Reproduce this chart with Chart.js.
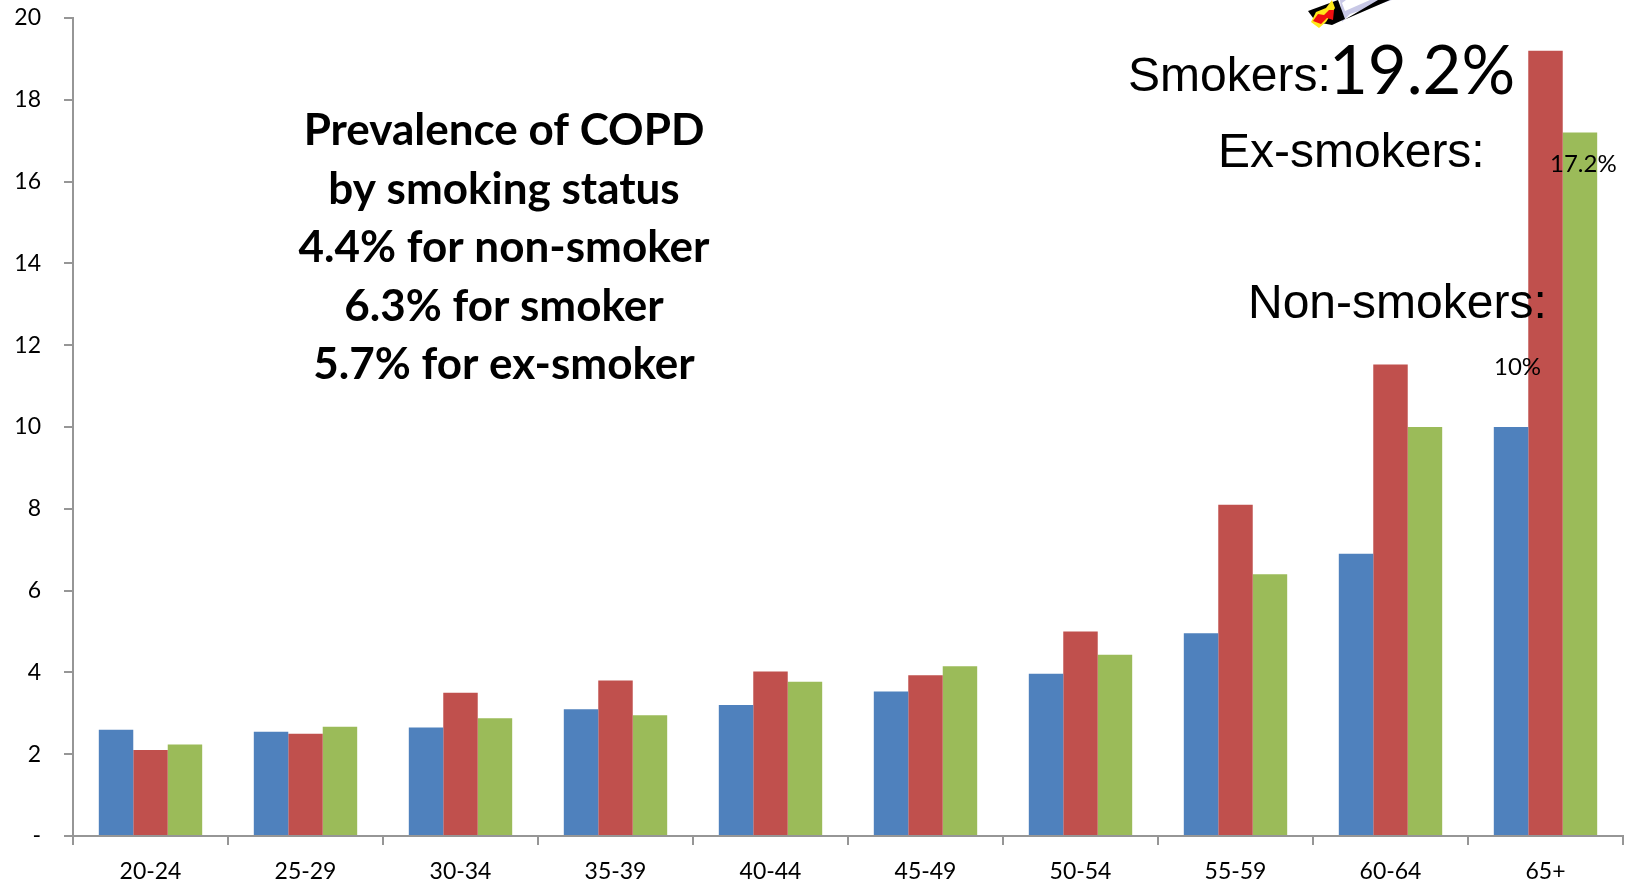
<!DOCTYPE html>
<html>
<head>
<meta charset="utf-8">
<title>Prevalence of COPD by smoking status</title>
<script src="https://cdn.jsdelivr.net/npm/chart.js@4/dist/chart.umd.min.js"></script>
<style>
  html, body { margin: 0; padding: 0; background: #fff; overflow: hidden; }
  #wrap { width: 1630px; height: 882px; }
</style>
</head>
<body>
<div id="wrap"><canvas id="copdChart" width="1630" height="882"></canvas></div>
<script>
const ageGroups = ['20-24', '25-29', '30-34', '35-39', '40-44', '45-49', '50-54', '55-59', '60-64', '65+'];
// 65+ non-smokers follows its 10% label
const nonSmokers = [2.6, 2.55, 2.65, 3.1, 3.2, 3.53, 3.97, 4.96, 6.9, 10];
const smokers = [2.1, 2.5, 3.5, 3.8, 4.02, 3.93, 5, 8.1, 11.53, 19.2];
const exSmokers = [2.24, 2.67, 2.88, 2.95, 3.77, 4.15, 4.43, 6.4, 10, 17.2];
const yTicks = [0, 2, 4, 6, 8, 10, 12, 14, 16, 18, 20];

const titleLines = [
    'Prevalence of COPD',
    'by smoking status',
    '4.4% for non-smoker',
    '6.3% for smoker',
    '5.7% for ex-smoker'
];

const axisGrey = '#969696';
const tickFont = { family: 'Lato', size: 23 };

// Free-standing text and the cigarette drawn over the bars
const overlayPlugin = {
    id: 'overlay',
    afterDatasetsDraw(chart) {
        const ctx = chart.ctx;
        ctx.save();
        ctx.fillStyle = '#000';
        ctx.textBaseline = 'alphabetic';

        ctx.textAlign = 'center';
        ctx.font = 'bold 44px Lato';
        titleLines.forEach((line, i) => ctx.fillText(line, 504, 145 + i * 58.5));

        ctx.textAlign = 'left';
        ctx.font = '48px "Liberation Sans"';
        ctx.fillText('Smokers:', 1128, 91);
        ctx.fillText('Ex-smokers:', 1218, 167);
        ctx.fillText('Non-smokers:', 1248, 318);
        ctx.font = '67px Lato';
        ctx.fillText('19.2%', 1329, 94);
        ctx.font = '24px Lato';
        ctx.fillText('17.2%', 1550, 172);
        ctx.fillText('10%', 1494, 375);

        drawCigarette(ctx);
        ctx.restore();
    }
};

function poly(ctx, color, pts) {
    ctx.fillStyle = color;
    ctx.beginPath();
    pts.forEach((p, i) => i ? ctx.lineTo(p[0], p[1]) : ctx.moveTo(p[0], p[1]));
    ctx.closePath();
    ctx.fill();
}

function drawCigarette(ctx) {
    poly(ctx, '#c8c8e6', [[1340, 0], [1392, 0], [1350, 14], [1342, 22]]);
    poly(ctx, '#000', [[1344, 20], [1378, 0], [1390, 0], [1346, 19]]);
    poly(ctx, '#ffffff', [[1342, 3], [1346, 0], [1370, 0], [1345, 11]]);
    poly(ctx, '#000', [[1308, 11], [1338, 0], [1345, 19], [1332, 25], [1316, 22]]);
    poly(ctx, '#ffe81a', [[1311, 22], [1316, 12], [1326, 8], [1332, 0], [1335, 8], [1326, 22], [1319, 28]]);
    poly(ctx, '#f01010', [[1313, 21], [1318, 14], [1324, 15], [1329, 10], [1334, 10], [1333, 20], [1327, 18], [1321, 24]]);
}

new Chart(document.getElementById('copdChart').getContext('2d'), {
    type: 'bar',
    data: {
        labels: ageGroups,
        datasets: [
            { label: 'Non-smokers', data: nonSmokers, backgroundColor: '#4f81bd' },
            { label: 'Smokers', data: smokers, backgroundColor: '#c0504d' },
            { label: 'Ex-smokers', data: exSmokers, backgroundColor: '#9bbb59' }
        ]
    },
    options: {
        responsive: false,
        animation: false,
        layout: { padding: { top: 18, right: 7, left: 0, bottom: 0 } },
        plugins: { legend: { display: false }, tooltip: { enabled: false } },
        datasets: { bar: { categoryPercentage: 0.667, barPercentage: 1 } },
        scales: {
            x: {
                afterFit(scale) { scale.height = 46; },
                border: { color: axisGrey, width: 2 },
                grid: { drawOnChartArea: false, color: axisGrey, lineWidth: 2, tickLength: 9 },
                ticks: { color: '#000', font: tickFont, padding: 13, maxRotation: 0, autoSkip: false }
            },
            y: {
                min: 0,
                max: 20,
                afterFit(scale) { scale.width = 73; scale.paddingTop = 0; scale.paddingBottom = 0; },
                afterBuildTicks(scale) { scale.ticks = yTicks.map(value => ({ value })); },
                border: { color: axisGrey, width: 2 },
                grid: { drawOnChartArea: false, color: axisGrey, lineWidth: 2, tickLength: 9 },
                ticks: {
                    color: '#000',
                    font: tickFont,
                    padding: 23,
                    callback: value => value === 0 ? '-' : value
                }
            }
        }
    },
    plugins: [overlayPlugin]
});
</script>
</body>
</html>
